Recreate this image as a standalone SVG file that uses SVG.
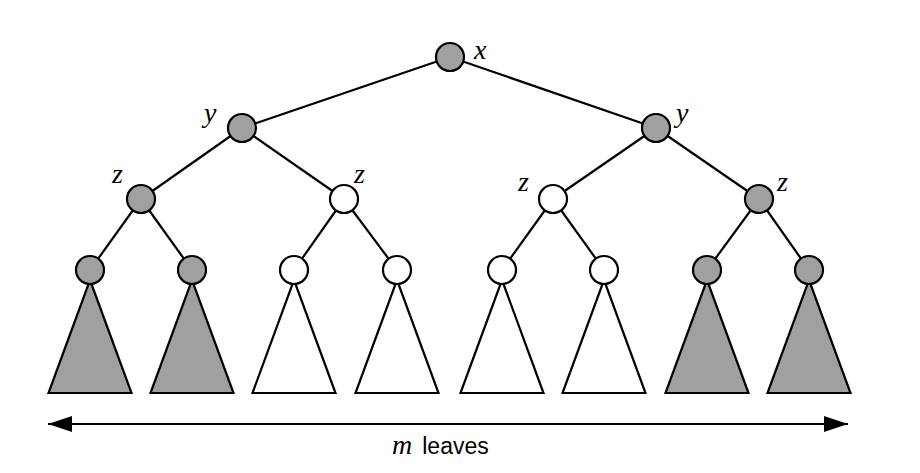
<svg xmlns="http://www.w3.org/2000/svg" width="920" height="473" viewBox="0 0 920 473">
<style>
.e{stroke:#000;stroke-width:2.2;fill:none}
.g{fill:#a0a0a0;stroke:#000;stroke-width:2.2}
.w{fill:#fff;stroke:#000;stroke-width:2.2}
.m{font-family:"Liberation Serif",serif;font-style:italic;font-size:28px}
.s{font-family:"Liberation Sans",sans-serif;font-size:23px}
</style>
<defs>
<marker id="ah" viewBox="0 0 24 16" refX="24" refY="8" markerWidth="24" markerHeight="16" markerUnits="userSpaceOnUse" orient="auto-start-reverse">
<path d="M0,0 L24,8 L0,16 Z" fill="#000"/>
</marker>
</defs>
<rect width="920" height="473" fill="#fff"/>
<g id="connectors">
<line class="e" x1="450" y1="57" x2="242" y2="128"/>
<line class="e" x1="450" y1="57" x2="656" y2="128"/>
<line class="e" x1="242" y1="128" x2="141" y2="199"/>
<line class="e" x1="242" y1="128" x2="344" y2="199"/>
<line class="e" x1="656" y1="128" x2="553" y2="199"/>
<line class="e" x1="656" y1="128" x2="759" y2="199"/>
<line class="e" x1="141" y1="199" x2="90" y2="270"/>
<line class="e" x1="141" y1="199" x2="192" y2="270"/>
<line class="e" x1="344" y1="199" x2="294" y2="270"/>
<line class="e" x1="344" y1="199" x2="397" y2="270"/>
<line class="e" x1="553" y1="199" x2="502" y2="270"/>
<line class="e" x1="553" y1="199" x2="604" y2="270"/>
<line class="e" x1="759" y1="199" x2="707" y2="270"/>
<line class="e" x1="759" y1="199" x2="809" y2="270"/>
<line class="e" x1="48" y1="424" x2="848" y2="424" marker-start="url(#ah)" marker-end="url(#ah)"/>
</g>
<g id="t1"><polygon class="g" points="90,280 131.5,393 48.5,393"/></g>
<g id="t2"><polygon class="g" points="192,280 233.5,393 150.5,393"/></g>
<g id="t3"><polygon class="w" points="294,280 335.5,393 252.5,393"/></g>
<g id="t4"><polygon class="w" points="397,280 438.5,393 355.5,393"/></g>
<g id="t5"><polygon class="w" points="502,280 543.5,393 460.5,393"/></g>
<g id="t6"><polygon class="w" points="604,280 645.5,393 562.5,393"/></g>
<g id="t7"><polygon class="g" points="707,280 748.5,393 665.5,393"/></g>
<g id="t8"><polygon class="g" points="809,280 850.5,393 767.5,393"/></g>
<g id="root"><circle class="g" cx="450" cy="57" r="14"/><text class="m" x="474" y="59">x</text></g>
<g id="yL"><circle class="g" cx="242" cy="128" r="14"/><text class="m" x="204" y="122">y</text></g>
<g id="yR"><circle class="g" cx="656" cy="128" r="14"/><text class="m" x="676" y="122">y</text></g>
<g id="zA"><circle class="g" cx="141" cy="199" r="14"/><text class="m" x="112" y="183">z</text></g>
<g id="zB"><circle class="w" cx="344" cy="199" r="14"/><text class="m" x="354" y="183">z</text></g>
<g id="zC"><circle class="w" cx="553" cy="199" r="14"/><text class="m" x="518" y="191">z</text></g>
<g id="zD"><circle class="g" cx="759" cy="199" r="14"/><text class="m" x="777" y="191">z</text></g>
<g id="l1"><circle class="g" cx="90" cy="270" r="14"/></g>
<g id="l2"><circle class="g" cx="192" cy="270" r="14"/></g>
<g id="l3"><circle class="w" cx="294" cy="270" r="14"/></g>
<g id="l4"><circle class="w" cx="397" cy="270" r="14"/></g>
<g id="l5"><circle class="w" cx="502" cy="270" r="14"/></g>
<g id="l6"><circle class="w" cx="604" cy="270" r="14"/></g>
<g id="l7"><circle class="g" cx="707" cy="270" r="14"/></g>
<g id="l8"><circle class="g" cx="809" cy="270" r="14"/></g>
<g id="label"><text x="392" y="454"><tspan class="m">m</tspan><tspan class="s" dx="10">leaves</tspan></text></g>
</svg>
